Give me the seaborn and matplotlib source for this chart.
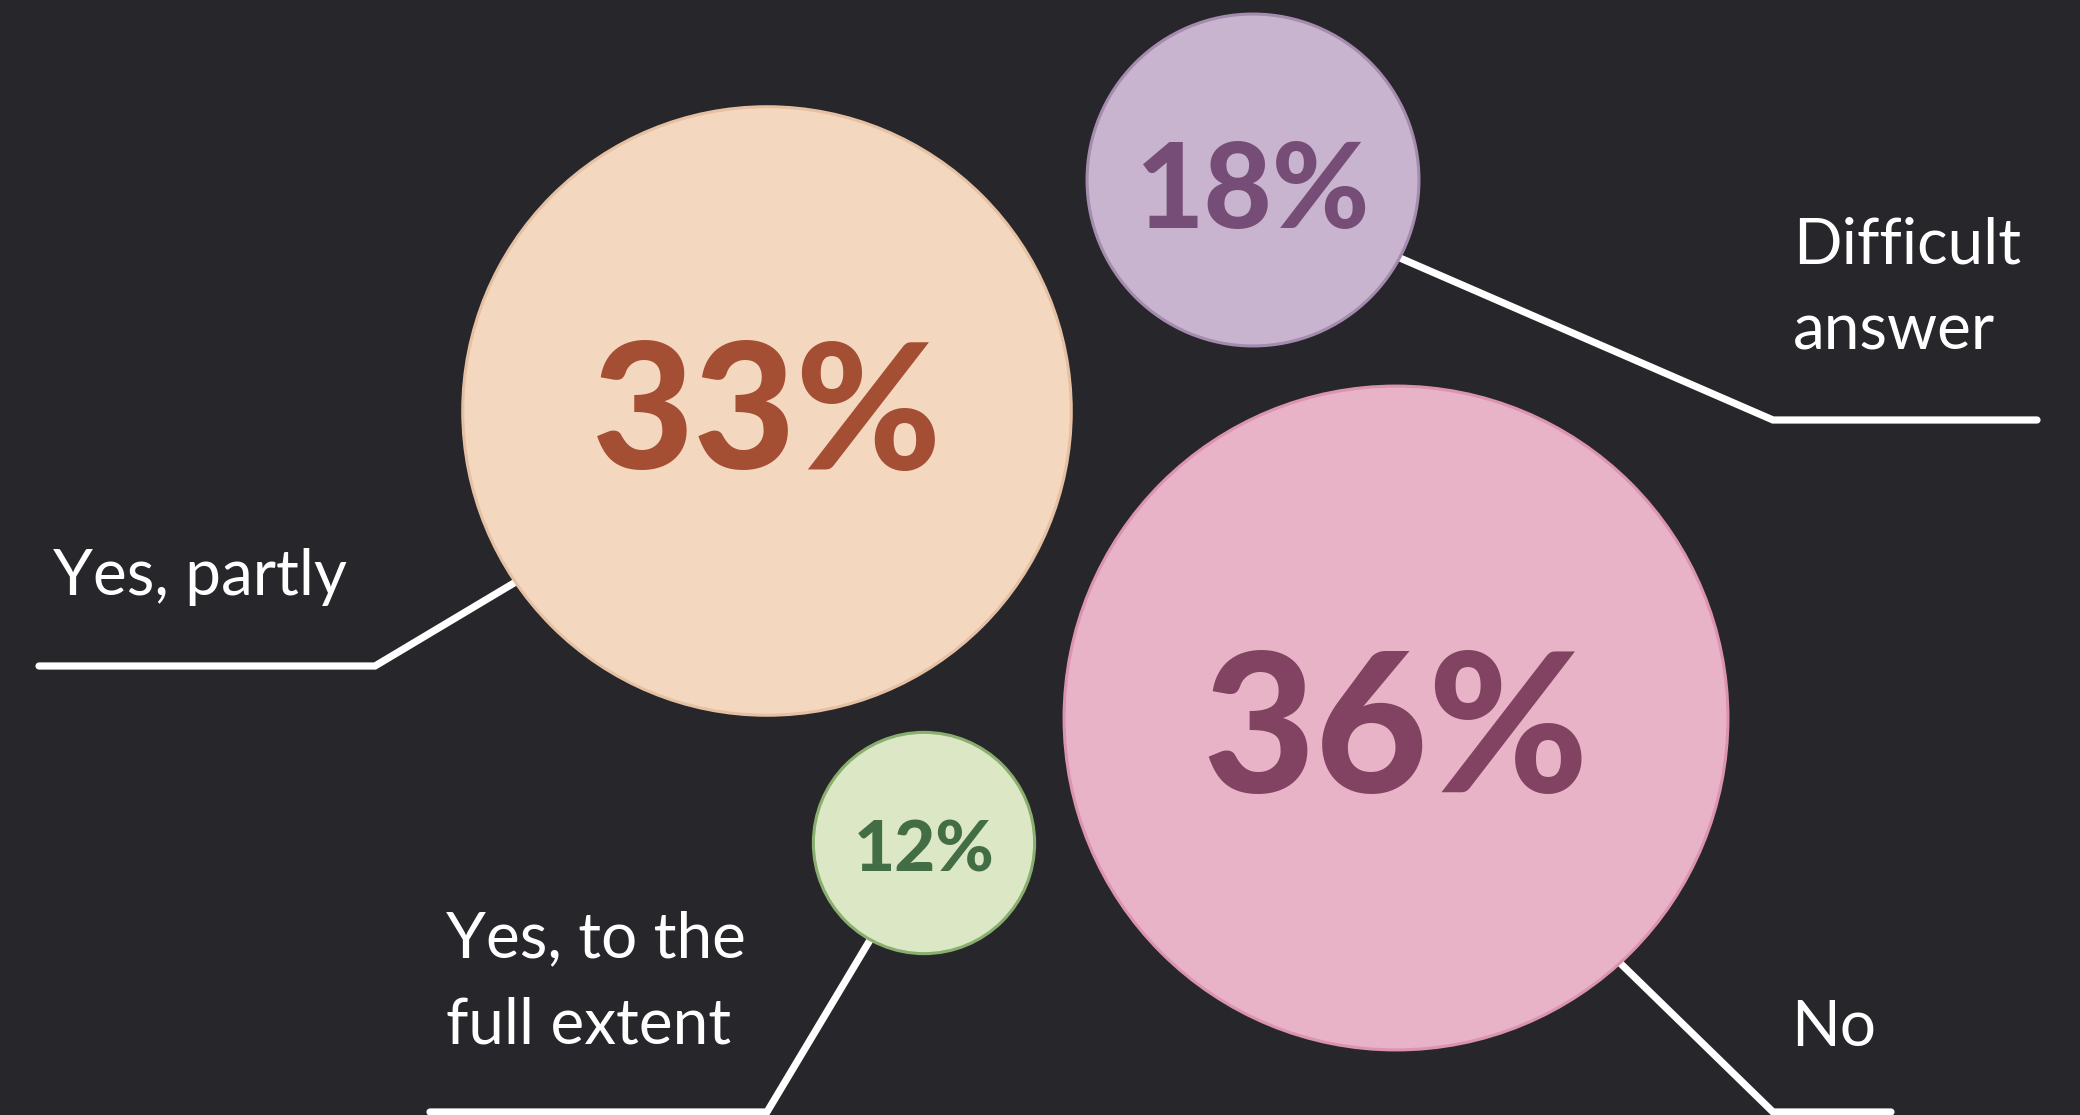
import matplotlib
matplotlib.use("Agg")
import matplotlib.pyplot as plt
import seaborn as sns
import pandas as pd

# Survey answers and their shares (%)
categories = ["Yes, partly", "Difficult\nanswer", "No", "Yes, to the\nfull extent"]
values = [33, 18, 36, 12]
value_labels = ["33%", "18%", "36%", "12%"]

# Bubble layout in pixel space (figure is 2080 x 1115 px)
center_x = [767, 1253, 1396, 924]
center_y = [411, 180, 718, 843]
px_per_percent = 9.22  # bubble radius grows linearly with the share

# Percentage text: size (pt) and baseline
pct_fontsize = [127, 85, 140, 51]
pct_baseline = [469, 228, 792, 871]

# Category captions: left edge and first baseline
caption_x = [53, 1793, 1791, 446]
caption_y = [595, 263, 1046, 957]
caption_linestep = 87

# Leader lines (pixel coordinates)
leader_x = [[514, 375, 39], [1400, 1773, 2037], [1618, 1773, 1891], [870, 767, 430]]
leader_y = [[583, 666, 666], [258, 420, 420], [961, 1112, 1112], [940, 1112, 1112]]

fill_colors = ["#F4D7BF", "#C9B4CF", "#E8B3C6", "#DBE7C5"]
edge_colors = ["#E6C0A2", "#A58BAE", "#DB93B0", "#89AE6E"]
text_colors = ["#A44E33", "#764D76", "#824262", "#436E45"]
background = "#26262B"

sns.set_theme(style="white")
plt.rcParams["font.family"] = ["Lato", "DejaVu Sans"]

W, H, DPI = 2080, 1115, 100
fig = plt.figure(figsize=(W / DPI, H / DPI), dpi=DPI)
fig.patch.set_facecolor(background)
ax = fig.add_axes([0, 0, 1, 1])
ax.set_facecolor(background)
ax.set_xlim(0, W)
ax.set_ylim(H, 0)
ax.set_axis_off()

# Leader lines sit under the bubbles
for lx, ly in zip(leader_x, leader_y):
    ax.plot(lx, ly, color="white", lw=5.2, solid_capstyle="round",
            solid_joinstyle="miter", zorder=1)

# Bubbles: marker area in pt^2 so that the radius in pixels equals share * px_per_percent
df = pd.DataFrame({"category": categories, "value": values,
                   "x": center_x, "y": center_y})
size_map = {v: (2 * v * px_per_percent * 72 / DPI) ** 2 for v in values}
sns.scatterplot(data=df, x="x", y="y", size="value", sizes=size_map,
                hue="category", palette=dict(zip(categories, fill_colors)),
                legend=False, ax=ax, zorder=2, linewidth=2.2)
coll = ax.collections[-1]
coll.set_edgecolors(edge_colors)
coll.set_linewidths(2.2)
ax.set_xlim(0, W)
ax.set_ylim(H, 0)

# Percentages in the bubbles
for cx, txt, fs, by, col in zip(center_x, value_labels, pct_fontsize, pct_baseline, text_colors):
    ax.text(cx, by, txt, ha="center", va="baseline", fontsize=fs,
            fontweight="black", color=col, zorder=3)

# Category captions
for label, tx, ty in zip(categories, caption_x, caption_y):
    for i, line in enumerate(label.split("\n")):
        ax.text(tx, ty + i * caption_linestep, line, ha="left", va="baseline",
                fontsize=46, color="white", zorder=3)

fig.savefig("out.png", dpi=DPI, facecolor=background)
